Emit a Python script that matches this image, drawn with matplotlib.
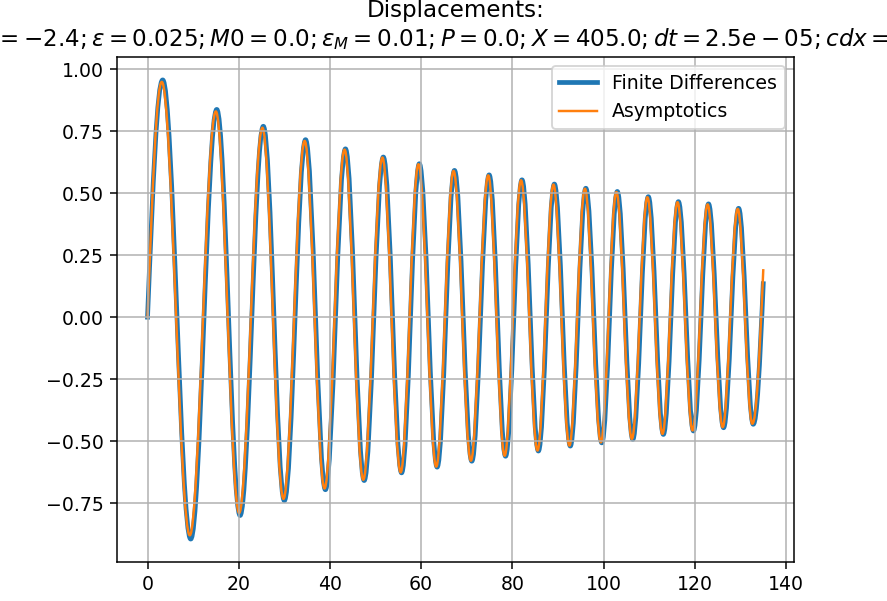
import matplotlib
matplotlib.use("Agg")
import matplotlib.pyplot as plt
from matplotlib.path import Path
from matplotlib.patches import PathPatch
from matplotlib.lines import Line2D

# Finite differences: start point, every peak / trough, end point
fd_t = [0.0, 3.33, 9.47, 15.18, 20.29, 25.39, 30.00, 34.65, 39.00, 43.40, 47.50, 51.70, 55.70, 59.60,
        63.50, 67.30, 71.10, 74.90, 78.50, 82.10, 85.70, 89.20, 92.70, 96.10, 99.60, 103.00, 106.40,
        109.80, 113.10, 116.40, 119.70, 123.00, 126.30, 129.60, 132.80, 135.00]
fd_y = [0.0, 0.957, -0.895, 0.838, -0.800, 0.770, -0.740, 0.716, -0.696, 0.679, -0.659, 0.646, -0.628,
        0.619, -0.605, 0.592, -0.581, 0.574, -0.561, 0.554, -0.540, 0.537, -0.520, 0.520, -0.507, 0.507,
        -0.493, 0.486, -0.473, 0.466, -0.459, 0.457, -0.446, 0.439, -0.432, 0.135]
fd_start_slope = 0.45
fd_end_slope = 0.42

# Asymptotics: same kind of points, slightly ahead in phase
as_t = [0.0, 3.13, 9.27, 14.98, 20.09, 25.19, 29.80, 34.45, 38.80, 43.20, 47.30, 51.50, 55.50, 59.40,
        63.30, 67.10, 70.90, 74.70, 78.30, 81.90, 85.50, 89.00, 92.50, 95.90, 99.40, 102.80, 106.20,
        109.60, 112.90, 116.20, 119.50, 122.80, 126.10, 129.40, 132.60, 135.00]
as_y = [0.0, 0.949, -0.880, 0.830, -0.790, 0.764, -0.733, 0.711, -0.691, 0.676, -0.656, 0.644, -0.626,
        0.617, -0.603, 0.590, -0.579, 0.572, -0.559, 0.552, -0.538, 0.535, -0.518, 0.518, -0.505, 0.505,
        -0.491, 0.484, -0.471, 0.464, -0.457, 0.455, -0.444, 0.437, -0.430, 0.189]
as_start_slope = 0.47
as_end_slope = 0.42

title = ("Displacements:\n"
         r"$\mu = -2.4; \varepsilon = 0.025; M0 = 0.0; \varepsilon_M = 0.01; P = 0.0; "
         r"X = 405.0; dt = 2.5e-05; cdx = 0.1$")


def smooth_path(t, y, start_slope, end_slope, k=0.364):
    """
    Cubic curve through the given points, flat at every peak and trough.
    """
    slopes = [start_slope] + [0.0] * (len(t) - 2) + [end_slope]
    verts = [(t[0], y[0])]
    codes = [Path.MOVETO]
    for i in range(1, len(t)):
        h = t[i] - t[i - 1]
        verts.append((t[i - 1] + k * h, y[i - 1] + k * h * slopes[i - 1]))
        verts.append((t[i] - k * h, y[i] - k * h * slopes[i]))
        verts.append((t[i], y[i]))
        codes += [Path.CURVE4] * 3
    return Path(verts, codes)


DPI = 136
fig = plt.figure(figsize=(887 / DPI, 601 / DPI), dpi=DPI)
ax = fig.add_axes([0.1316, 0.0649, 0.7636, 0.8403])

fd_line = PathPatch(smooth_path(fd_t, fd_y, fd_start_slope, fd_end_slope), fill=False,
                    edgecolor="#1f77b4", linewidth=2.5, joinstyle="round", capstyle="projecting")
as_line = PathPatch(smooth_path(as_t, as_y, as_start_slope, as_end_slope), fill=False,
                    edgecolor="#ff7f0e", linewidth=1.3, joinstyle="round", capstyle="projecting")
ax.add_patch(fd_line)
ax.add_patch(as_line)
ax.autoscale_view()

ax.set_title(title, fontsize=12.2)
ax.grid()
handles = [Line2D([], [], color="#1f77b4", linewidth=2.5),
           Line2D([], [], color="#ff7f0e", linewidth=1.3)]
ax.legend(handles, ["Finite Differences", "Asymptotics"], loc="upper right")

fig.savefig("out.png", dpi=DPI)
